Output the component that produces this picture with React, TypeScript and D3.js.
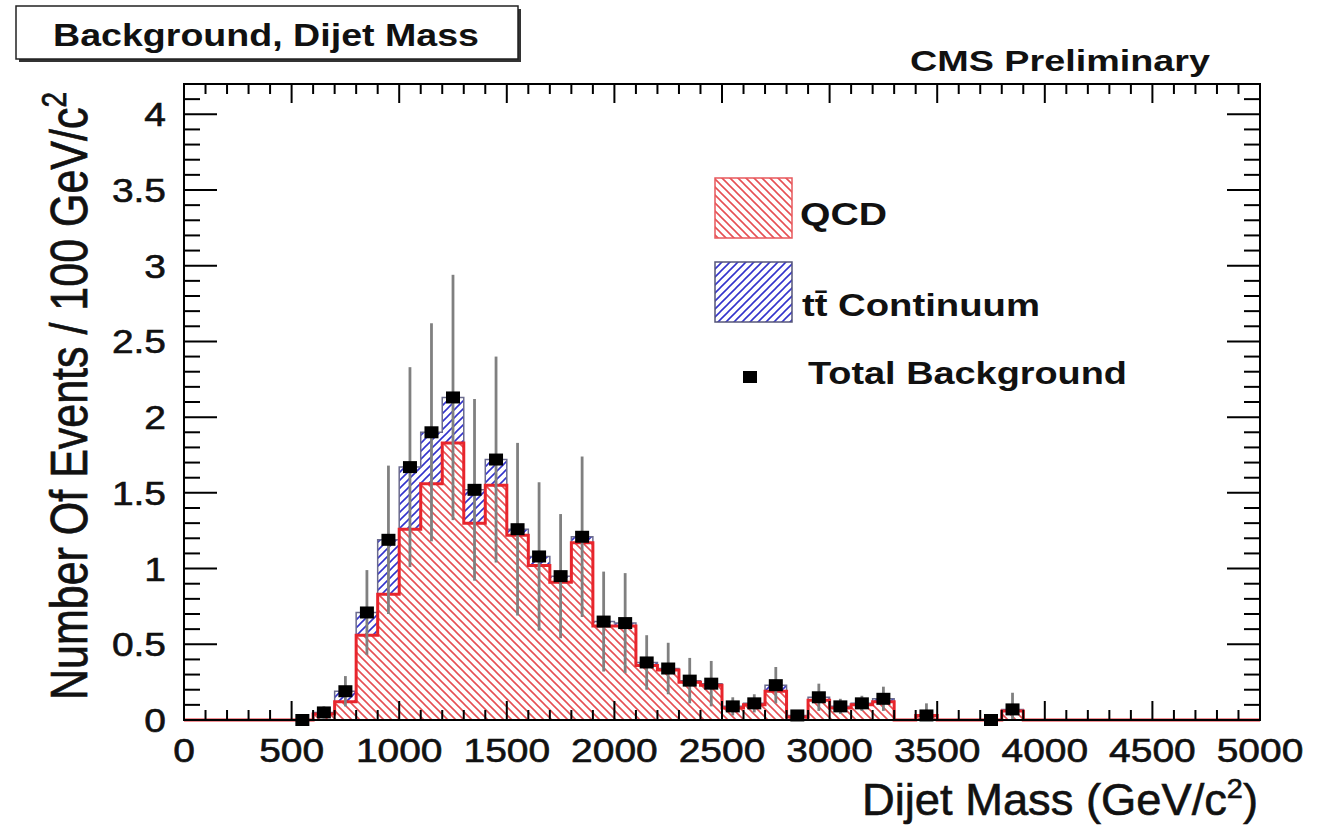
import React from "react";
import * as d3 from "d3";

// Dijet mass bins (lower edges, GeV/c^2), 100 GeV wide
const binLow = [
  500, 600, 700, 800, 900, 1000, 1100, 1200, 1300, 1400, 1500, 1600, 1700, 1800,
  1900, 2000, 2100, 2200, 2300, 2400, 2500, 2600, 2700, 2800, 2900, 3000, 3100,
  3200, 3300, 3400, 3500, 3600, 3700, 3800,
];
const binWidth = 100;

// QCD expectation per bin
const qcd = [
  0, 0.04, 0.12, 0.56, 0.83, 1.26, 1.56, 1.83, 1.3, 1.55, 1.22, 1.02, 0.91, 1.17,
  0.62, 0.62, 0.36, 0.33, 0.25, 0.23, 0.08, 0.1, 0.19, 0.02, 0.13, 0.08, 0.1,
  0.12, 0, 0.03, 0, 0, 0, 0.06,
];

// ttbar continuum per bin (stacked on QCD)
const ttbar = [
  0, 0.01, 0.07, 0.15, 0.36, 0.41, 0.34, 0.3, 0.22, 0.17, 0.04, 0.06, 0.04, 0.04,
  0.03, 0.02, 0.02, 0.01, 0.01, 0.01, 0.01, 0.01, 0.04, 0.01, 0.02, 0.01, 0.01,
  0.02, 0, 0, 0, 0, 0, 0.01,
];

// statistical uncertainty on the total background
const totalErr = [
  0, 0.04, 0.1, 0.28, 0.49, 0.66, 0.72, 0.81, 0.6, 0.68, 0.57, 0.49, 0.41, 0.53,
  0.33, 0.33, 0.18, 0.17, 0.15, 0.15, 0.06, 0.06, 0.12, 0.03, 0.09, 0.05, 0.05,
  0.08, 0, 0.08, 0, 0, 0, 0.11,
];

// bins that contain simulated entries (drawn with a marker)
const hasEntries = [
  true, true, true, true, true, true, true, true, true, true, true, true, true, true,
  true, true, true, true, true, true, true, true, true, true, true, true, true,
  true, false, true, false, false, true, true,
];

const xTickLabels = [0, 500, 1000, 1500, 2000, 2500, 3000, 3500, 4000, 4500, 5000];
const yTickLabels = [0, 0.5, 1, 1.5, 2, 2.5, 3, 3.5, 4];

const W = 1329;
const H = 830;
const FONT = "'Liberation Sans', Arial, Helvetica, sans-serif";
const INK = "#111";

const x = d3.scaleLinear().domain([0, 5000]).range([184, 1260]);
const y = d3.scaleLinear().domain([0, 4.2]).range([720, 84]);

type Pt = { e: number; lo: number; hi: number };

export default function App() {
  const total = qcd.map((q, i) => q + ttbar[i]);

  // step points: lower edge of each bin, plus closing edge
  const lastHi = binLow[binLow.length - 1] + binWidth;
  const qcdPts: Pt[] = binLow.map((b, i) => ({ e: b, lo: 0, hi: qcd[i] }));
  qcdPts.push({ e: lastHi, lo: 0, hi: qcd[qcd.length - 1] });
  const ttPts: Pt[] = binLow.map((b, i) => ({ e: b, lo: qcd[i], hi: total[i] }));
  ttPts.push({ e: lastHi, lo: qcd[qcd.length - 1], hi: total[total.length - 1] });

  const area = d3
    .area<Pt>()
    .x((d) => x(d.e))
    .y0((d) => y(d.lo))
    .y1((d) => y(d.hi))
    .curve(d3.curveStepAfter);

  const outline = (vals: number[], start: number, end: number) => {
    const pts: [number, number][] = [[start, 0]];
    binLow.forEach((b, i) => pts.push([b, vals[i]]));
    pts.push([lastHi, 0]);
    pts.push([end, 0]);
    return d3
      .line<[number, number]>()
      .x((d) => x(d[0]))
      .y((d) => y(d[1]))
      .curve(d3.curveStepAfter)(pts) as string;
  };

  const xMinor = d3.range(0, 5001, 100);
  const yMinor = d3.range(0, 42.01, 1).map((v) => v / 10);
  const isMajorX = (v: number) => v % 500 === 0;
  const isMajorY = (v: number) => Math.abs(v * 2 - Math.round(v * 2)) < 1e-6;

  const markW = 14;
  const markH = 12;

  return (
    <svg
      width={W}
      height={H}
      style={{ position: "absolute", left: 0, top: 0, background: "#fff" }}
      fontFamily={FONT}
    >
      <defs>
        <pattern id="hatchRed" patternUnits="userSpaceOnUse" width={8} height={8}>
          <path d="M0,0 L8,8 M-1,7 L1,9 M7,-1 L9,1" stroke="#e65054" strokeWidth={1.6} />
        </pattern>
        <pattern id="hatchBlue" patternUnits="userSpaceOnUse" width={8} height={8}>
          <path d="M0,8 L8,0 M-1,1 L1,-1 M7,9 L9,7" stroke="#3434cc" strokeWidth={1.6} />
        </pattern>
      </defs>

      <rect x={0} y={0} width={W} height={H} fill="#fff" />

      {/* title box */}
      <rect x={19} y={9} width={502} height={53} fill="#333" />
      <rect x={16} y={6} width={502} height={53} fill="#fff" stroke="#222" strokeWidth={1.5} />
      <text x={53} y={46} fontSize={31} fontWeight="bold" textLength={426} lengthAdjust="spacingAndGlyphs" fill={INK}>
        Background, Dijet Mass
      </text>

      <text x={910} y={71} fontSize={30} fontWeight="bold" textLength={300} lengthAdjust="spacingAndGlyphs" fill={INK}>
        CMS Preliminary
      </text>

      {/* stacked histograms */}
      <path d={area(ttPts) as string} fill="url(#hatchBlue)" />
      <path d={area(qcdPts) as string} fill="url(#hatchRed)" />
      <path d={outline(total, 500, 3900)} fill="none" stroke="#6b6b8e" strokeWidth={1.5} />
      <path d={outline(qcd, 0, 5000)} fill="none" stroke="#e8252c" strokeWidth={3} />

      {/* error bars */}
      {binLow.map((b, i) =>
        hasEntries[i] && totalErr[i] > 0 ? (
          <line
            key={`e${b}`}
            x1={x(b + binWidth / 2)}
            x2={x(b + binWidth / 2)}
            y1={y(total[i] + totalErr[i])}
            y2={y(Math.max(0, total[i] - totalErr[i]))}
            stroke="#808080"
            strokeWidth={2.8}
          />
        ) : null
      )}

      {/* total background markers */}
      {binLow.map((b, i) =>
        hasEntries[i] ? (
          <rect
            key={`m${b}`}
            x={x(b + binWidth / 2) - markW / 2}
            y={y(total[i]) - markH / 2}
            width={markW}
            height={markH}
            fill="#000"
          />
        ) : null
      )}

      {/* frame */}
      <rect x={184} y={84} width={1076} height={636} fill="none" stroke="#000" strokeWidth={2} />

      {/* x ticks (bottom and top) */}
      {xMinor.map((v) => {
        const len = isMajorX(v) ? 19 : 10;
        return (
          <g key={`xt${v}`} stroke="#000" strokeWidth={2}>
            <line x1={x(v)} x2={x(v)} y1={720} y2={720 - len} />
            <line x1={x(v)} x2={x(v)} y1={84} y2={84 + len} />
          </g>
        );
      })}

      {/* y ticks (left and right) */}
      {yMinor.map((v) => {
        const len = isMajorY(v) ? 33 : 16;
        return (
          <g key={`yt${v}`} stroke="#000" strokeWidth={2}>
            <line x1={184} x2={184 + len} y1={y(v)} y2={y(v)} />
            <line x1={1260} x2={1260 - len} y1={y(v)} y2={y(v)} />
          </g>
        );
      })}

      {/* tick labels */}
      <g fill={INK} stroke={INK} strokeWidth={0.6} fontSize={33}>
        {xTickLabels.map((v) => (
          <text
            key={`xl${v}`}
            transform={`translate(${x(v)},762) scale(1.18,1)`}
            textAnchor="middle"
          >
            {v}
          </text>
        ))}
        {yTickLabels.map((v) => (
          <text
            key={`yl${v}`}
            transform={`translate(166,${y(v) + 12}) scale(1.18,1)`}
            textAnchor="end"
          >
            {v}
          </text>
        ))}
      </g>

      {/* axis titles */}
      <g fill={INK} stroke={INK} strokeWidth={0.6}>
        <text x={1258} y={815} textAnchor="end" fontSize={44} textLength={396} lengthAdjust="spacingAndGlyphs">
          Dijet Mass (GeV/c<tspan dy={-17} fontSize={28}>2</tspan><tspan dy={17}>)</tspan>
        </text>
        <text
          transform="translate(87,396) scale(1.22,1) rotate(-90)"
          textAnchor="middle"
          fontSize={43}
          textLength={608}
          lengthAdjust="spacingAndGlyphs"
        >
          Number Of Events / 100 GeV/c<tspan dy={-17} fontSize={28}>2</tspan>
        </text>
      </g>

      {/* legend */}
      <rect x={715} y={178} width={77} height={60} fill="url(#hatchRed)" stroke="#e8585c" strokeWidth={1.5} />
      <text x={800} y={225} fontSize={31} fontWeight="bold" textLength={87} lengthAdjust="spacingAndGlyphs" fill={INK}>
        QCD
      </text>
      <rect x={715} y={262} width={77} height={60} fill="url(#hatchBlue)" stroke="#55557a" strokeWidth={1.5} />
      <text x={802} y={316} fontSize={31} fontWeight="bold" textLength={238} lengthAdjust="spacingAndGlyphs" fill={INK}>
        tt̄ Continuum
      </text>
      <rect x={750 - markW / 2} y={377 - markH / 2} width={markW} height={markH} fill="#000" />
      <text x={808} y={384} fontSize={31} fontWeight="bold" textLength={319} lengthAdjust="spacingAndGlyphs" fill={INK}>
        Total Background
      </text>
    </svg>
  );
}
